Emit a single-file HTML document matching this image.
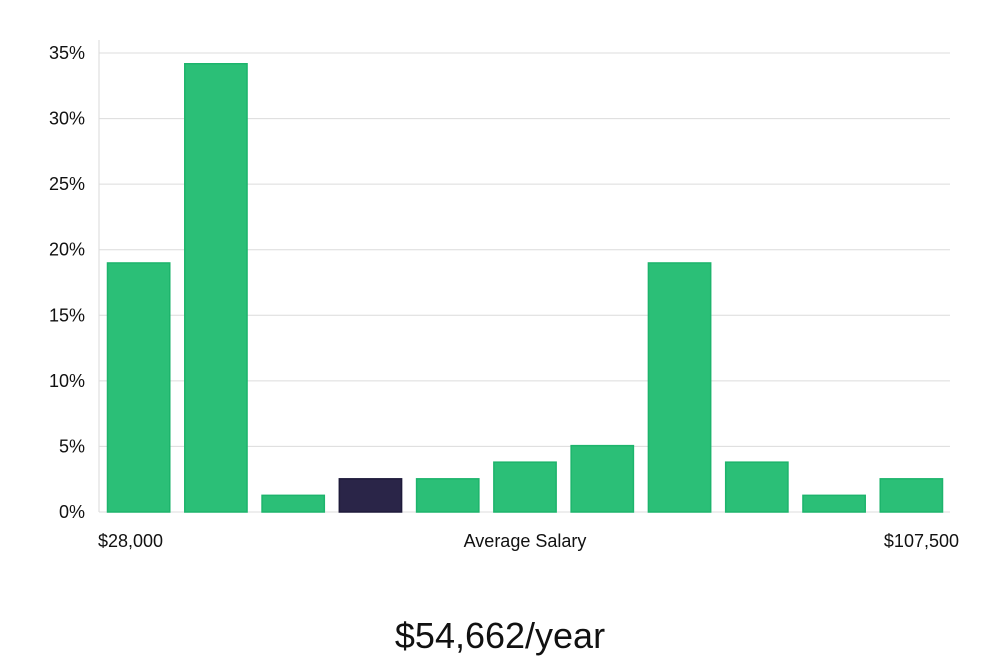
<!DOCTYPE html>
<html><head><meta charset="utf-8"><style>
body{margin:0;background:#fff;width:1000px;height:660px;overflow:hidden;font-family:"Liberation Sans","DejaVu Sans",sans-serif}
</style></head><body>
<svg width="1000" height="660" xmlns="http://www.w3.org/2000/svg">
<g id="grid"></g><g id="bars"></g><g id="ylabels"></g>
<text x="98" y="547" font-size="18" fill="#111">$28,000</text>
<text x="525" y="547" font-size="18" fill="#111" text-anchor="middle">Average Salary</text>
<text x="959" y="547" font-size="18" fill="#111" text-anchor="end">$107,500</text>
<text x="500" y="648" font-size="36" fill="#111" text-anchor="middle">$54,662/year</text>
</svg>
<script>
const binLabels=["b1","b2","b3","b4","b5","b6","b7","b8","b9","b10","b11"];
const percents=[18.99,34.18,1.27,2.53,2.53,3.80,5.06,18.99,3.80,1.27,2.53];
const highlightIndex=3;
const yTicks=[0,5,10,15,20,25,30,35];
const NS="http://www.w3.org/2000/svg";
const x0=100,x1=950,y0=512,yTop=53,yMax=35;
const y=v=>y0-(v/yMax)*(y0-yTop);
const step=(x1-x0)/binLabels.length;
const xb=i=>x0+i*step;
const grid=document.getElementById('grid'),bars=document.getElementById('bars'),yl=document.getElementById('ylabels');
const axis=document.createElementNS(NS,'line');
axis.setAttribute('x1',99);axis.setAttribute('x2',99);axis.setAttribute('y1',40);axis.setAttribute('y2',y0);
axis.setAttribute('stroke','#d8d8d8');


grid.appendChild(axis);
yTicks.forEach(t=>{
 const l=document.createElementNS(NS,'line');
 l.setAttribute('x1',99);l.setAttribute('x2',x1);l.setAttribute('y1',y(t));l.setAttribute('y2',y(t));
 l.setAttribute('stroke','#dcdcdc');
 
 
 grid.appendChild(l);
 const tx=document.createElementNS(NS,'text');
 tx.setAttribute('x',85);tx.setAttribute('y',y(t)+6);tx.setAttribute('text-anchor','end');
 tx.setAttribute('font-size','18');tx.setAttribute('fill','#111');
 tx.textContent=t+'%';
 
 
 yl.appendChild(tx);
});
percents.forEach((v,i)=>{
 const r=document.createElementNS(NS,'rect');
 r.setAttribute('x',xb(i)+7.5);r.setAttribute('width',step-15);
 r.setAttribute('y',y(v));r.setAttribute('height',y0-y(v));
 const hi=i===highlightIndex;
 r.setAttribute('fill',hi?'#2a2548':'#2bbf77');
 r.setAttribute('stroke',hi?'#1e1a3a':'#1db46c');
 r.setAttribute('stroke-width','1.5');
 
 
 bars.appendChild(r);
});
</script>
</body></html>
